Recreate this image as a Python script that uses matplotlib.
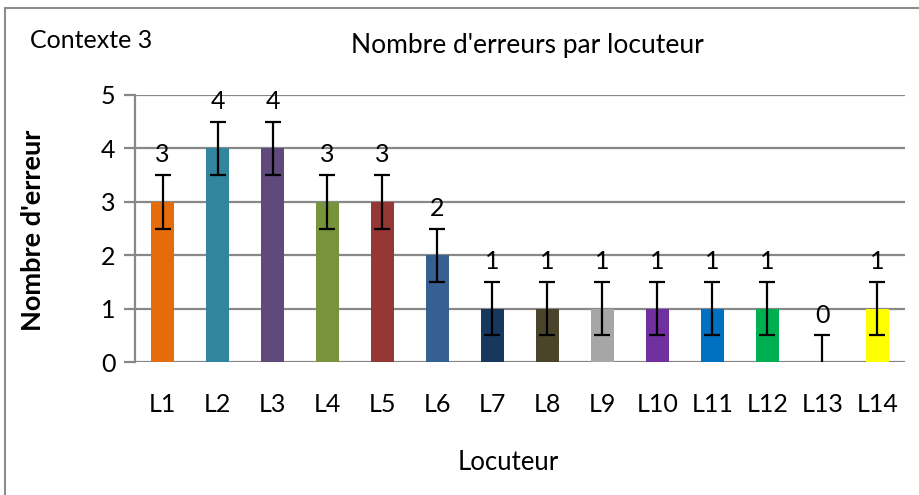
import matplotlib.pyplot as plt
import numpy as np
from matplotlib.patches import Rectangle

plt.rcParams['font.family'] = ['Lato', 'DejaVu Sans']

# Data:

locuteurs = ['L1', 'L2', 'L3', 'L4', 'L5', 'L6', 'L7', 'L8', 'L9', 'L10', 'L11', 'L12', 'L13', 'L14']
erreurs = np.array([3, 4, 4, 3, 3, 2, 1, 1, 1, 1, 1, 1, 0, 1])
erreur_err = 0.5
couleurs = ['#E46C0A', '#31859C', '#604A7B', '#77933C', '#953735', '#376092', '#17375E',
            '#4A452A', '#A6A6A6', '#7030A0', '#0070C0', '#00B050', '#FFFFFF', '#FFFF00']

# Plotting:

fig = plt.figure(figsize=(9.2, 4.95), dpi=100)
ax = fig.add_axes([135 / 920, 1 - 362 / 495, 770 / 920, 267 / 495])

x = np.arange(len(locuteurs))
ax.bar(x, erreurs, width=0.42, color=couleurs, zorder=3)
ax.errorbar(x, erreurs, yerr=erreur_err, fmt='none', ecolor='black', elinewidth=1.6,
            capsize=6, capthick=1.6, zorder=4)
for xi, v in zip(x, erreurs):
    ax.text(xi, v + 0.88, str(v), ha='center', va='center', fontsize=18, zorder=5)

ax.set_xlim(-0.5, len(locuteurs) - 0.5)
ax.set_ylim(0, 5)
ax.set_yticks(range(6))
ax.set_xticks(x)
ax.set_xticklabels(locuteurs)
ax.grid(axis='y', color='#888888', lw=1.6, zorder=0)
for s in ['top', 'right', 'bottom']:
    ax.spines[s].set_visible(False)
ax.spines['left'].set_color('#888888')
ax.spines['left'].set_linewidth(1.6)
ax.tick_params(axis='y', length=8, width=1.6, color='#888888', labelsize=18, pad=6)
ax.tick_params(axis='x', length=0, labelsize=18, pad=22)

fig.text(33 / 920, 1 - 230 / 495, "Nombre d'erreur", rotation=90, ha='center', va='center',
         fontsize=19.5, fontweight='bold')
fig.text(508 / 920, 1 - 463 / 495, 'Locuteur', ha='center', va='center', fontsize=18.5)
fig.text(527 / 920, 1 - 45 / 495, "Nombre d'erreurs par locuteur", ha='center', va='center', fontsize=19)
fig.text(30 / 920, 1 - 40 / 495, 'Contexte 3', ha='left', va='center', fontsize=18)

# chart frame
fig.patches.append(Rectangle((5 / 920, -0.1), 1.2, 1 - 8 / 495 + 0.1, transform=fig.transFigure,
                             fill=False, ec='#8C8C8C', lw=1.5))

plt.savefig('out.png', dpi=100)
